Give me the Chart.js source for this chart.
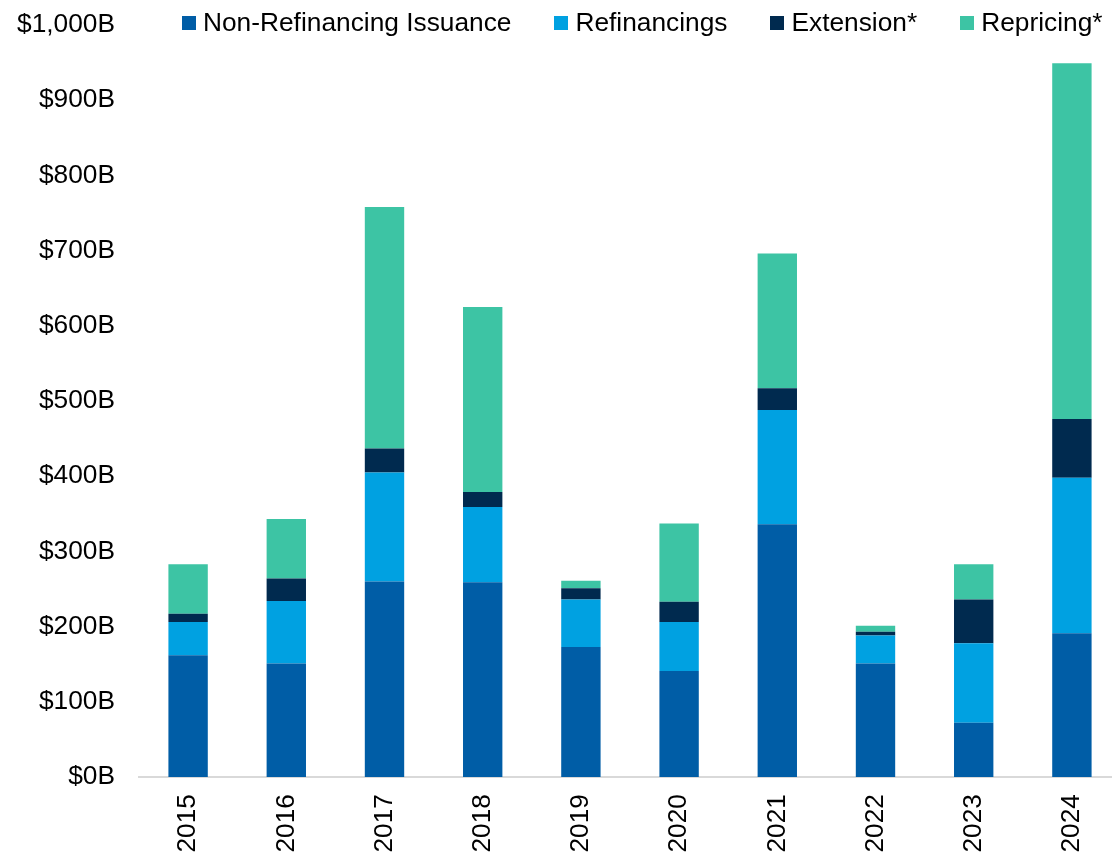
<!DOCTYPE html>
<html>
<head>
<meta charset="utf-8">
<script src="https://cdn.jsdelivr.net/npm/chart.js@4"></script>
<style>
  html, body { margin: 0; padding: 0; background: #fff; overflow: hidden; }
  #wrap { position: relative; width: 1112px; height: 856px; overflow: hidden; }
  #legend { position: absolute; top: 7px; left: 182px; display: flex; align-items: center;
            font-family: "Liberation Sans", Arial, sans-serif; font-size: 26.3px; line-height: 30px; color: #000; }
  #legend .item { display: flex; align-items: center; margin-right: 43px; white-space: nowrap; }
  #legend .sw { width: 14px; height: 14px; margin-right: 7px; margin-top: 1px; }
</style>
</head>
<body>
<div id="wrap">
  <canvas id="c" width="1121" height="856"></canvas>
  <div id="legend"></div>
</div>
<script>
const categories = ["2015","2016","2017","2018","2019","2020","2021","2022","2023","2024"];
const nonRefinancing = [162, 151, 260, 259, 173, 141, 336, 151, 72, 191];
const refinancings   = [44, 83, 145, 100, 63, 65, 152, 37, 106, 207];
const extension      = [11, 30, 32, 20, 15, 27, 29, 5, 58, 78];
const repricing      = [66, 79, 321, 246, 10, 104, 179, 8, 47, 473];
const yTicks = [0,100,200,300,400,500,600,700,800,900,1000];

const seriesNames  = ["Non-Refinancing Issuance", "Refinancings", "Extension*", "Repricing*"];
const seriesColors = ["#005DA6", "#00A1E1", "#002A4F", "#3DC4A4"];
const seriesData   = [nonRefinancing, refinancings, extension, repricing];

const FONT = '"Liberation Sans", Arial, sans-serif';
const FSIZE = 26.3;

const chart = new Chart(document.getElementById('c'), {
  type: 'bar',
  data: {
    labels: categories,
    datasets: seriesNames.map((n, i) => ({
      label: n,
      data: seriesData[i],
      backgroundColor: seriesColors[i],
      borderWidth: 0,
      categoryPercentage: 0.401,
      barPercentage: 1.0
    }))
  },
  options: {
    responsive: false,
    animation: false,
    layout: { padding: { left: 17, right: 0, top: 25, bottom: 0 } },
    plugins: { legend: { display: false }, tooltip: { enabled: false } },
    scales: {
      x: {
        stacked: true,
        grid: { display: false, drawTicks: false },
        border: { display: true, color: '#D9D9D9', width: 2 },
        ticks: { minRotation: 90, maxRotation: 90, padding: 17, color: '#000',
                 font: { family: FONT, size: FSIZE } },
        afterFit: (a) => { a.height = 79; a.paddingLeft = 0; a.paddingRight = 0; }
      },
      y: {
        stacked: true,
        min: 0, max: 1000,
        afterBuildTicks: (axis) => { axis.ticks = yTicks.map(v => ({ value: v })); },
        grid: { display: false, drawTicks: false },
        border: { display: false },
        ticks: { padding: 24, color: '#000', font: { family: FONT, size: FSIZE },
                 callback: (v) => '$' + v.toLocaleString('en-US') + 'B' },
        afterFit: (a) => { a.width = 122; a.paddingTop = 0; a.paddingBottom = 0; }
      }
    }
  }
});

const legend = document.getElementById('legend');
chart.data.datasets.forEach(ds => {
  const item = document.createElement('div');
  item.className = 'item';
  const sw = document.createElement('span');
  sw.className = 'sw';
  sw.style.background = ds.backgroundColor;
  const tx = document.createElement('span');
  tx.textContent = ds.label;
  item.appendChild(sw); item.appendChild(tx);
  legend.appendChild(item);
});
</script>
</body>
</html>
